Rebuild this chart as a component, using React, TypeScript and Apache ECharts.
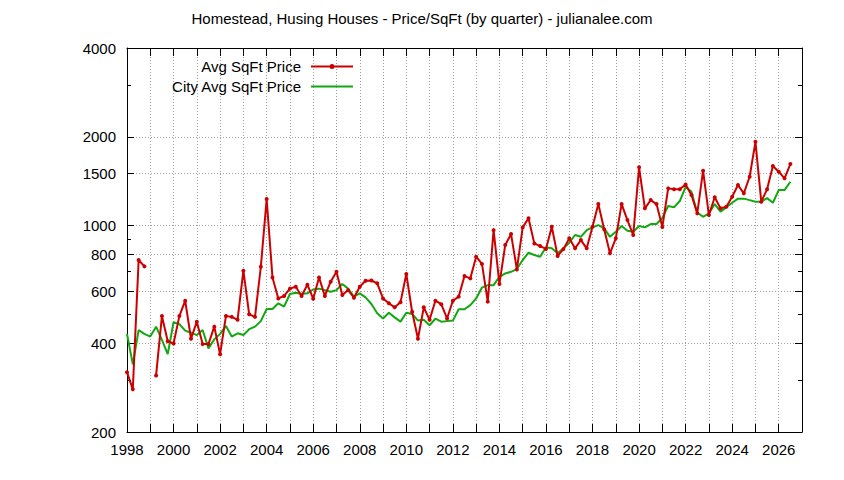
import React, { useEffect, useRef } from 'react';
import * as echarts from 'echarts';

// quarterly series, first point is Q1 1998
const START_YEAR = 1998;

const avgSqftPrice = [
  319, 279, 765, 728,
  null, 311, 494, 406,
  399, 494, 557, 414,
  473, 397, 397, 455,
  367, 494, 491, 480,
  704, 501, 491, 726,
  1231, 668, 567, 578,
  612, 621, 578, 631,
  566, 668, 578, 646,
  698, 582, 605, 570,
  621, 651, 652, 638,
  567, 546, 529, 550,
  686, 511, 414, 529,
  480, 557, 542, 485,
  557, 575, 675, 663,
  785, 742, 553, 966,
  635, 860, 937, 711,
  987, 1060, 871, 853,
  834, 992, 790, 833,
  906, 838, 894, 838,
  992, 1184, 972, 806,
  906, 1184, 1045, 930,
  1577, 1145, 1221, 1184,
  990, 1338, 1328, 1328,
  1380, 1270, 1101, 1536,
  1087, 1248, 1145, 1159,
  1254, 1373, 1287, 1465,
  1924, 1206, 1328, 1592,
  1524, 1447, 1618,
];

const cityAvgSqftPrice = [
  430, 339, 443, 430,
  421, 455, 410, 367,
  471, 464, 441, 434,
  426, 443, 384, 412,
  430, 457, 421, 432,
  426, 446, 455, 475,
  522, 522, 546, 532,
  587, 593, 587, 590,
  608, 612, 605, 597,
  605, 635, 612, 575,
  590, 572, 543, 505,
  485, 507, 489, 473,
  507, 502, 477, 480,
  460, 484, 473, 475,
  477, 521, 521, 538,
  567, 617, 629, 629,
  671, 689, 698, 713,
  765, 810, 796, 785,
  845, 838, 806, 838,
  876, 930, 917, 966,
  987, 1005, 979, 917,
  954, 997, 962, 954,
  997, 987, 1013, 1013,
  1063, 1166, 1154, 1212,
  1355, 1303, 1107, 1072,
  1101, 1184, 1116, 1154,
  1196, 1235, 1235, 1221,
  1206, 1206, 1240, 1196,
  1320, 1320, 1409,
];

const yMajorTicks = [200, 400, 600, 800, 1000, 1500, 2000, 4000];
const yMinorTicks = [300, 500, 700, 900, 3000];
const xLabelYears = [1998, 2000, 2002, 2004, 2006, 2008, 2010, 2012, 2014, 2016, 2018, 2020, 2022, 2024, 2026];

const seriesNames = ['Avg SqFt Price', 'City Avg SqFt Price'];

const FONT = 'Liberation Sans';
const RED = '#cc0000';
const GREEN = '#11a811';
const GRID_LINE = { color: '#a0a0a0', width: 1, type: [1, 2] };

const toPoints = (values: (number | null)[]) =>
  values.map((v, i) => [START_YEAR + i * 0.25, v]);

// plain numbers, no thousands separator
const plain = (v: number) => String(Math.round(v));

const logAxis = (position: string, ticks: number[], tickLen: number, major: boolean, labels: boolean) => ({
  type: 'log',
  logBase: 10,
  min: 200,
  max: 4000,
  position,
  axisLine: { show: major, onZero: false, lineStyle: { color: '#000', width: 1 } },
  axisTick: { show: true, inside: true, length: tickLen, customValues: ticks, lineStyle: { color: '#000', width: 1 } },
  axisLabel: labels
    ? { show: true, customValues: ticks, formatter: plain, margin: 11, color: '#000', fontSize: 15, fontFamily: FONT }
    : { show: false },
  splitLine: major && labels ? { show: true, lineStyle: GRID_LINE } : { show: false },
  minorTick: { show: false },
});

const yearAxis = (position: string, labels: boolean) => ({
  type: 'value',
  min: 1998,
  max: 2027,
  interval: 1,
  position,
  axisLine: { show: true, onZero: false, lineStyle: { color: '#000', width: 1 } },
  axisTick: { show: true, inside: true, length: 8, lineStyle: { color: '#000', width: 1 } },
  axisLabel: labels
    ? { show: true, customValues: xLabelYears, formatter: plain, margin: 10, color: '#000', fontSize: 15, fontFamily: FONT }
    : { show: false },
  splitLine: labels ? { show: true, lineStyle: GRID_LINE } : { show: false },
});

const App: React.FC = () => {
  const chartRef = useRef<HTMLDivElement>(null);

  useEffect(() => {
    if (!chartRef.current) return;
    const chart = echarts.init(chartRef.current, undefined, { renderer: 'svg' });

    const option: any = {
      animation: false,
      backgroundColor: '#fff',
      textStyle: { fontFamily: FONT },
      title: {
        text: 'Homestead, Husing Houses - Price/SqFt (by quarter) - julianalee.com',
        left: 'center',
        top: 11,
        padding: 0,
        textStyle: { fontSize: 15, fontWeight: 'normal', color: '#000', fontFamily: FONT },
      },
      legend: {
        orient: 'vertical',
        align: 'right',
        right: 491,
        top: 59,
        padding: 0,
        itemWidth: 42,
        itemHeight: 14,
        itemGap: 5,
        textStyle: { fontSize: 15, color: '#000', fontFamily: FONT, padding: [0, 5, 0, 0] },
        data: [
          {
            name: seriesNames[0],
            icon: 'path://M0,6h18.5v2h-18.5z M23.5,6h18.5v2h-18.5z M18.5,7a2.5,2.5 0 1,1 5,0a2.5,2.5 0 1,1 -5,0z',
            itemStyle: { color: RED },
          },
          {
            name: seriesNames[1],
            icon: 'path://M0,6h42v2h-42z',
            itemStyle: { color: GREEN },
          },
        ],
      },
      grid: { left: 127, right: 42, top: 48, bottom: 48, containLabel: false },
      xAxis: [yearAxis('bottom', true), yearAxis('top', false)],
      yAxis: [
        logAxis('left', yMajorTicks, 7, true, true),
        logAxis('left', yMinorTicks, 4, false, false),
        logAxis('right', yMajorTicks, 7, true, false),
        logAxis('right', yMinorTicks, 4, false, false),
      ],
      series: [
        {
          name: seriesNames[0],
          type: 'line',
          xAxisIndex: 0,
          yAxisIndex: 0,
          data: toPoints(avgSqftPrice),
          connectNulls: false,
          symbol: 'circle',
          symbolSize: 4,
          showSymbol: true,
          lineStyle: { color: RED, width: 2 },
          itemStyle: { color: RED },
          z: 4,
        },
        {
          name: seriesNames[1],
          type: 'line',
          xAxisIndex: 0,
          yAxisIndex: 0,
          data: toPoints(cityAvgSqftPrice),
          symbol: 'none',
          showSymbol: false,
          lineStyle: { color: GREEN, width: 2 },
          itemStyle: { color: GREEN },
          z: 3,
        },
      ],
    };

    chart.setOption(option);
    return () => chart.dispose();
  }, []);

  return (
    <div
      ref={chartRef}
      style={{ position: 'fixed', left: 0, top: 0, width: 844, height: 480, background: '#fff' }}
    />
  );
};

export default App;
